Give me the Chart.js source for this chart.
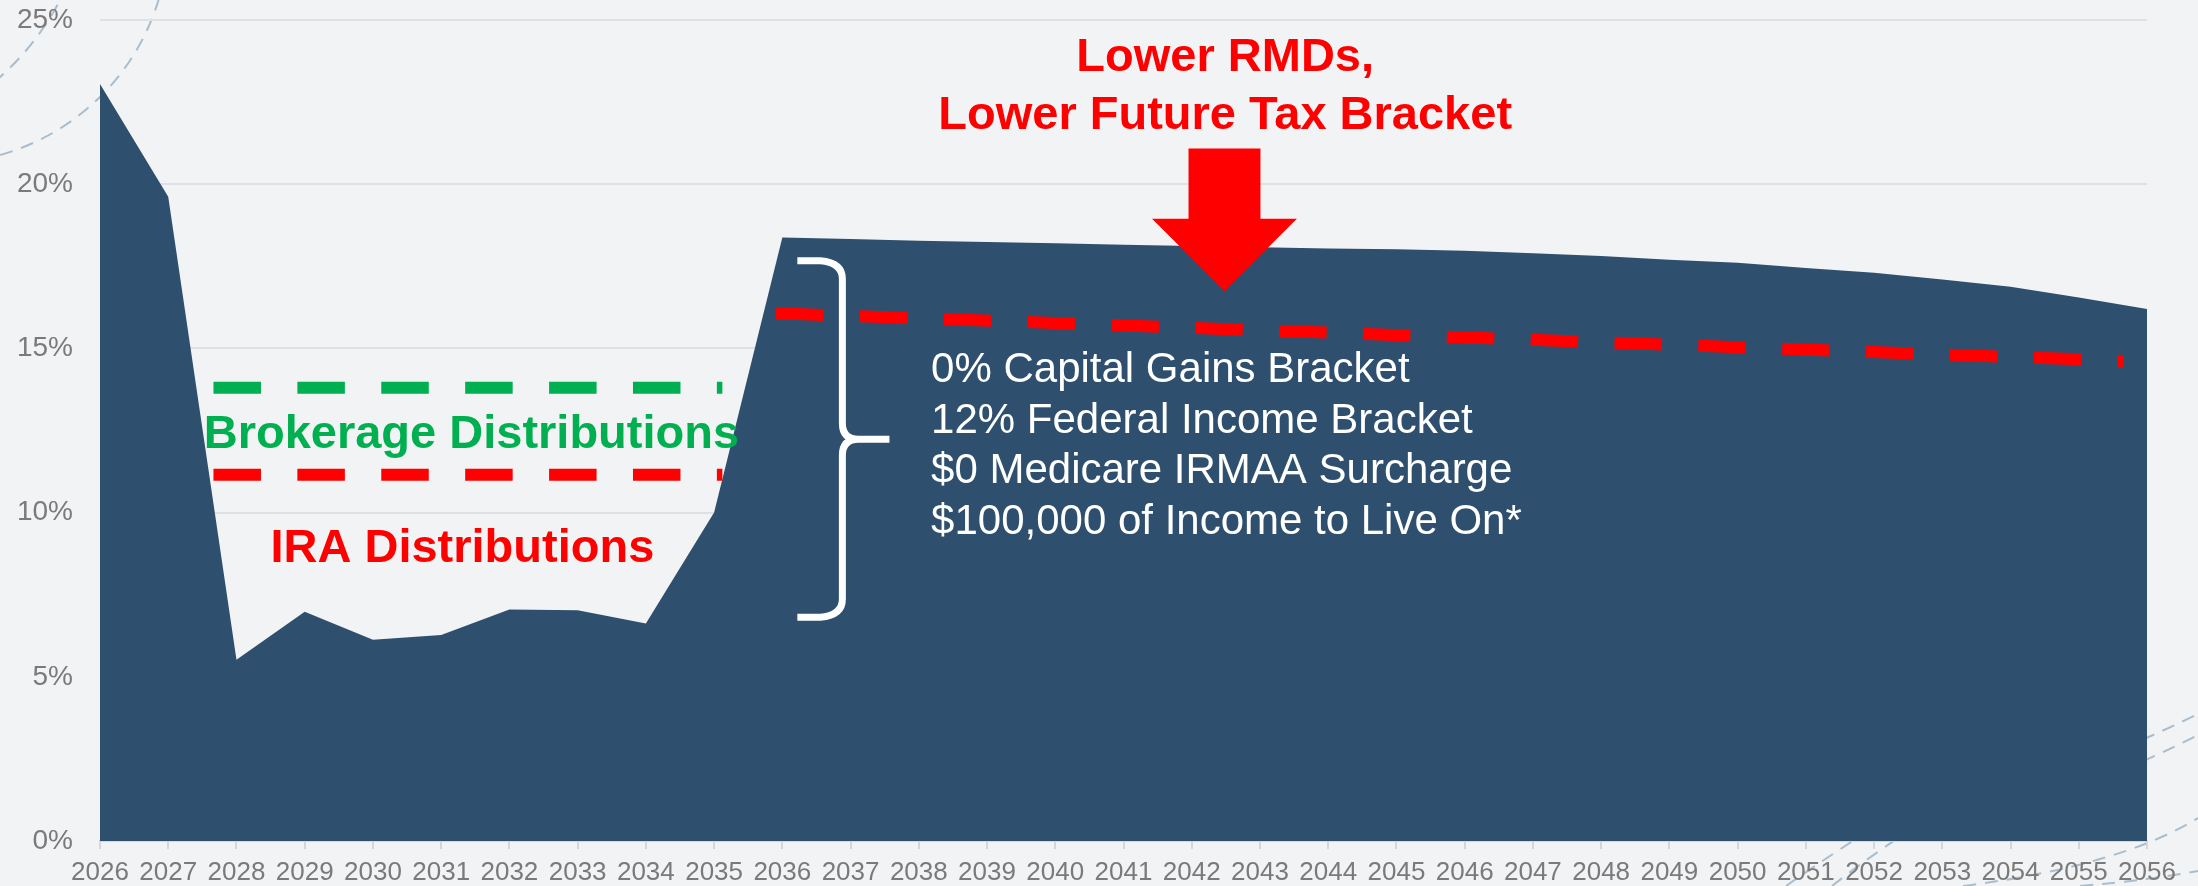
<!DOCTYPE html>
<html>
<head>
<meta charset="utf-8">
<script src="https://cdn.jsdelivr.net/npm/chart.js@4.4.1/dist/chart.umd.min.js"></script>
<style>
    body { margin: 0; background: #f2f3f5; }
    #wrap { width: 2198px; height: 886px; position: relative; }
</style>
</head>
<body>
<div id="wrap"><canvas id="myChart"></canvas></div>
<script>
// years on the x axis
const years = ['2026', '2027', '2028', '2029', '2030', '2031', '2032', '2033', '2034', '2035',
    '2036', '2037', '2038', '2039', '2040', '2041', '2042', '2043', '2044', '2045',
    '2046', '2047', '2048', '2049', '2050', '2051', '2052', '2053', '2054', '2055', '2056'];

// effective tax rate (%)
const taxRate = [23.05, 19.62, 5.52, 6.98, 6.13, 6.27, 7.05, 7.03, 6.62, 10.0,
    18.38, 18.33, 18.28, 18.24, 18.2, 18.16, 18.12, 18.08, 18.04, 18.02,
    17.97, 17.9, 17.81, 17.7, 17.61, 17.45, 17.3, 17.1, 16.88, 16.55, 16.2];

const yTicks = [0, 5, 10, 15, 20, 25];

// annotation lines, x in years after 2026
const brokerageX = [1.663, 9.121];
const brokerageY = [13.8, 13.8];
const iraX = [1.663, 9.121];
const iraY = [11.15, 11.15];
const futureX = [9.908, 18.54, 29.66];
const futureY = [16.07, 15.44, 14.62];

const bracketLines = ['0% Capital Gains Bracket', '12% Federal Income Bracket',
    '$0 Medicare IRMAA Surcharge', '$100,000 of Income to Live On*'];
const bracketBase = [13.97, 12.41, 10.89, 9.34];

const FONT = "'Liberation Sans', Arial, sans-serif";

function pts(xs, ys) {
    var out = [];
    for (var i = 0; i < xs.length; i++) {
        out.push({ x: xs[i], y: ys[i] });
    }
    return out;
}

// background + faint dashed arcs in the corners
const background = {
    id: 'background',
    beforeDraw(chart) {
        const ctx = chart.ctx;
        ctx.save();
        ctx.fillStyle = '#f2f3f5';
        ctx.fillRect(0, 0, chart.width, chart.height);
        ctx.strokeStyle = '#a9bdcd';
        ctx.lineWidth = 2;
        ctx.setLineDash([13, 9]);

        ctx.beginPath();
        ctx.arc(-62, -67, 230.5, 0, Math.PI / 2);
        ctx.stroke();
        ctx.beginPath();
        ctx.arc(-176, -122, 265.7, 0, Math.PI / 2);
        ctx.stroke();

        ctx.beginPath();
        ctx.moveTo(2040, 780);
        ctx.quadraticCurveTo(2120, 752, 2198, 714);
        ctx.stroke();
        ctx.beginPath();
        ctx.moveTo(2040, 800);
        ctx.quadraticCurveTo(2120, 775, 2198, 735);
        ctx.stroke();
        ctx.beginPath();
        ctx.moveTo(1786, 886);
        ctx.quadraticCurveTo(1840, 848, 1910, 805);
        ctx.stroke();
        ctx.beginPath();
        ctx.moveTo(1832, 886);
        ctx.quadraticCurveTo(1880, 848, 1945, 808);
        ctx.stroke();
        ctx.beginPath();
        ctx.moveTo(1963, 886);
        ctx.quadraticCurveTo(2120, 866, 2198, 818);
        ctx.stroke();
        ctx.beginPath();
        ctx.moveTo(2080, 886);
        ctx.quadraticCurveTo(2150, 880, 2198, 871);
        ctx.stroke();
        ctx.restore();
    }
};

function write(ctx, str, x, y, size, weight, color, align) {
    ctx.font = weight + ' ' + size + 'px ' + FONT;
    ctx.fillStyle = color;
    ctx.textAlign = align;
    ctx.textBaseline = 'alphabetic';
    ctx.fillText(str, x, y);
}

// arrow, brace and texts
const notes = {
    id: 'notes',
    afterDatasetsDraw(chart) {
        const ctx = chart.ctx;
        const sx = chart.scales.x2;
        const sy = chart.scales.y;
        ctx.save();

        // big red arrow
        var cx = sx.getPixelForValue(16.48);
        var shaft = sx.getPixelForValue(16.48 + 0.527) - cx;
        var head = sx.getPixelForValue(16.48 + 1.062) - cx;
        var top = sy.getPixelForValue(21.09);
        var base = sy.getPixelForValue(18.95);
        var tip = sy.getPixelForValue(16.75);
        ctx.fillStyle = '#ff0000';
        ctx.beginPath();
        ctx.moveTo(cx - shaft, top);
        ctx.lineTo(cx + shaft, top);
        ctx.lineTo(cx + shaft, base);
        ctx.lineTo(cx + head, base);
        ctx.lineTo(cx, tip);
        ctx.lineTo(cx - head, base);
        ctx.lineTo(cx - shaft, base);
        ctx.closePath();
        ctx.fill();

        // white brace
        var left = sx.getPixelForValue(10.22);
        var bar = sx.getPixelForValue(10.88);
        var nib = sx.getPixelForValue(11.57);
        var bTop = sy.getPixelForValue(17.67);
        var bMid = sy.getPixelForValue(12.23);
        var bBot = sy.getPixelForValue(6.81);
        ctx.strokeStyle = '#ffffff';
        ctx.lineWidth = 7;
        ctx.lineJoin = 'round';
        ctx.beginPath();
        ctx.moveTo(left, bTop);
        ctx.lineTo(bar - 22, bTop);
        ctx.quadraticCurveTo(bar, bTop + 2, bar, bTop + 18);
        ctx.lineTo(bar, bMid - 16);
        ctx.quadraticCurveTo(bar, bMid, bar + 16, bMid);
        ctx.lineTo(nib, bMid);
        ctx.moveTo(bar + 16, bMid);
        ctx.quadraticCurveTo(bar, bMid, bar, bMid + 16);
        ctx.lineTo(bar, bBot - 18);
        ctx.quadraticCurveTo(bar, bBot - 2, bar - 22, bBot);
        ctx.lineTo(left, bBot);
        ctx.stroke();

        // texts
        var tx = sx.getPixelForValue(16.49);
        write(ctx, 'Lower RMDs,', tx, sy.getPixelForValue(23.45), 47, 'bold', '#ff0000', 'center');
        write(ctx, 'Lower Future Tax Bracket', tx, sy.getPixelForValue(21.68), 47, 'bold', '#ff0000', 'center');
        write(ctx, 'Brokerage Distributions', sx.getPixelForValue(5.443), sy.getPixelForValue(11.97), 47, 'bold', '#00b050', 'center');
        write(ctx, 'IRA Distributions', sx.getPixelForValue(5.311), sy.getPixelForValue(8.5), 47, 'bold', '#ff0000', 'center');

        var lx = sx.getPixelForValue(12.18);
        for (var i = 0; i < bracketLines.length; i++) {
            write(ctx, bracketLines[i], lx, sy.getPixelForValue(bracketBase[i]), 42, 'normal', '#ffffff', 'left');
        }
        ctx.restore();
    }
};

const ctx = document.getElementById('myChart');

new Chart(ctx, {
    type: 'line',
    data: {
        labels: years,
        datasets: [{
            data: taxRate,
            fill: 'origin',
            backgroundColor: '#2e4f6e',
            borderWidth: 0,
            pointRadius: 0,
            tension: 0,
            order: 10
        }, {
            data: pts(futureX, futureY),
            xAxisID: 'x2',
            borderColor: '#ff0000',
            borderWidth: 12,
            borderDash: [47.5, 36.4],
            borderCapStyle: 'butt',
            pointRadius: 0,
            fill: false,
            order: 1
        }, {
            data: pts(brokerageX, brokerageY),
            xAxisID: 'x2',
            borderColor: '#00b050',
            borderWidth: 12,
            borderDash: [47.5, 36.4],
            borderCapStyle: 'butt',
            pointRadius: 0,
            fill: false,
            order: 1
        }, {
            data: pts(iraX, iraY),
            xAxisID: 'x2',
            borderColor: '#ff0000',
            borderWidth: 12,
            borderDash: [47.5, 36.4],
            borderCapStyle: 'butt',
            pointRadius: 0,
            fill: false,
            order: 1
        }]
    },
    options: {
        responsive: true,
        maintainAspectRatio: false,
        animation: false,
        layout: {
            padding: { top: 20, right: 51, left: 0, bottom: 0 }
        },
        plugins: {
            legend: { display: false },
            tooltip: { enabled: false }
        },
        scales: {
            x: {
                type: 'category',
                offset: false,
                grid: {
                    drawOnChartArea: false,
                    drawTicks: true,
                    tickLength: 8,
                    color: '#d5d7da',
                    lineWidth: 2
                },
                border: { display: true, color: '#d5d7da', width: 2 },
                ticks: {
                    autoSkip: false,
                    maxRotation: 0,
                    padding: 8,
                    color: '#7a7a7a',
                    font: { family: FONT, size: 26 }
                },
                afterFit: function (scale) { scale.height = 45; }
            },
            x2: {
                type: 'linear',
                display: false,
                min: 0,
                max: 30
            },
            y: {
                min: 0,
                max: 25,
                afterBuildTicks: function (scale) {
                    scale.ticks = yTicks.map(function (v) { return { value: v }; });
                },
                grid: {
                    color: '#dfe0e3',
                    lineWidth: 2,
                    drawTicks: true,
                    tickLength: 27,
                    tickColor: 'rgba(0,0,0,0)'
                },
                border: { display: false },
                ticks: {
                    padding: 0,
                    color: '#7a7a7a',
                    font: { family: FONT, size: 28 },
                    callback: function (v) { return v + '%'; }
                },
                afterFit: function (scale) { scale.width = 100; }
            }
        }
    },
    plugins: [background, notes]
});
</script>
</body>
</html>
